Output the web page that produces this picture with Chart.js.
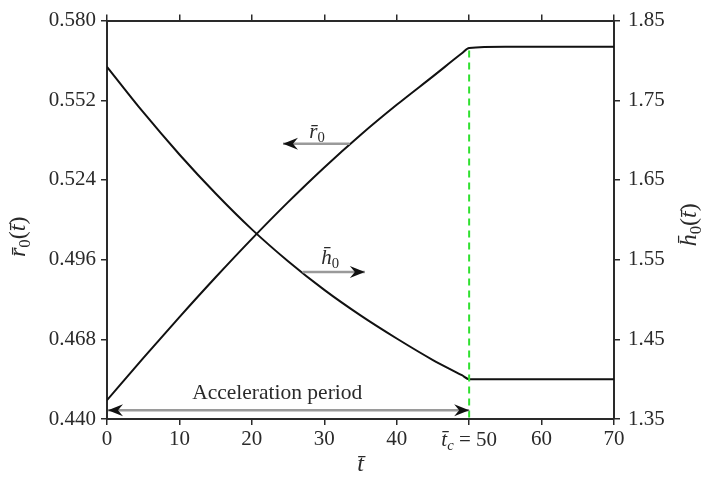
<!DOCTYPE html>
<html>
<head>
<meta charset="utf-8">
<script src="https://cdn.jsdelivr.net/npm/chart.js@4.4.1/dist/chart.umd.min.js"></script>
<style>
html, body { margin: 0; padding: 0; background: #fff; }
#wrap { width: 707px; height: 485px; }
</style>
</head>
<body>
<div id="wrap"><canvas id="c" width="707" height="485"></canvas></div>
<script>
"use strict";

// data
const tVals  = [0, 5, 10, 15, 20, 25, 30, 35, 40, 45, 49, 50, 55, 60, 65, 70];
const r0Vals = [0.4466, 0.4614, 0.4758, 0.4898, 0.5033, 0.5162, 0.5284, 0.5398, 0.5504, 0.5604, 0.5685, 0.5704, 0.5708, 0.5708, 0.5708, 0.5708];
const h0Vals = [1.792, 1.735, 1.682, 1.633, 1.588, 1.548, 1.512, 1.480, 1.451, 1.424, 1.405, 1.400, 1.400, 1.400, 1.400, 1.400];

const xTicks = [0, 10, 20, 30, 40, 50, 60, 70];
const leftTicks = [0.440, 0.468, 0.496, 0.524, 0.552, 0.580];
const rightTicks = [1.35, 1.45, 1.55, 1.65, 1.75, 1.85];
const tc = 50;

// annotation arrows, in data units
const r0Arrow = { from: [33.5, 0.5367], to: [24.3, 0.5367], label: [29.0, 0.5408] };
const h0Arrow = { from: [27.0, 1.5344], to: [35.6, 1.5344], label: [30.8, 1.5517] };
const accArrow = { from: [0, 0.4431], to: [50, 0.4431], label: [23.5, 0.4490] };

const ink = "#2a2a2a";
const serif = "'Liberation Serif', 'DejaVu Serif', serif";
const MAC = "\u0304";

function pts(ys) {
  return tVals.map((t, i) => ({ x: t, y: ys[i] }));
}

// text made of parts: {s, it, sub}
function richWidth(ctx, parts, size) {
  let w = 0;
  parts.forEach(p => {
    let fs = p.sub ? size * 0.7 : size;
    ctx.font = (p.it ? "italic " : "") + fs + "px " + serif;
    w += ctx.measureText(p.s).width;
  });
  return w;
}
function drawRich(ctx, parts, x, y, size) {
  let w = richWidth(ctx, parts, size);
  let cx = x - w / 2;
  ctx.textBaseline = "middle";
  ctx.textAlign = "left";
  ctx.fillStyle = ink;
  parts.forEach(p => {
    let fs = p.sub ? size * 0.7 : size;
    ctx.font = (p.it ? "italic " : "") + fs + "px " + serif;
    ctx.fillText(p.s, cx, p.sub ? y + size * 0.28 : y);
    cx += ctx.measureText(p.s).width;
  });
}

function head(ctx, x, y, dir) {
  ctx.save();
  ctx.translate(x, y);
  ctx.scale(dir, 1);
  ctx.beginPath();
  ctx.moveTo(0, 0);
  ctx.lineTo(-15, -6);
  ctx.lineTo(-10, 0);
  ctx.lineTo(-15, 6);
  ctx.closePath();
  ctx.fillStyle = "#111";
  ctx.fill();
  ctx.restore();
}

function arrow(ctx, x1, y1, x2, y2, both) {
  ctx.save();
  ctx.strokeStyle = "#9a9a9a";
  ctx.lineWidth = 2.5;
  ctx.beginPath();
  ctx.moveTo(x1, y1);
  ctx.lineTo(x2, y2);
  ctx.stroke();
  ctx.restore();
  head(ctx, x2, y2, x2 > x1 ? 1 : -1);
  if (both) head(ctx, x1, y1, x1 > x2 ? 1 : -1);
}

const decor = {
  id: "decor",
  afterDatasetsDraw(chart) {
    const ctx = chart.ctx;
    const x = chart.scales.x, yl = chart.scales.y, yr = chart.scales.y2;
    const area = chart.chartArea;

    arrow(ctx, x.getPixelForValue(r0Arrow.from[0]), yl.getPixelForValue(r0Arrow.from[1]),
      x.getPixelForValue(r0Arrow.to[0]), yl.getPixelForValue(r0Arrow.to[1]), false);
    arrow(ctx, x.getPixelForValue(h0Arrow.from[0]), yr.getPixelForValue(h0Arrow.from[1]),
      x.getPixelForValue(h0Arrow.to[0]), yr.getPixelForValue(h0Arrow.to[1]), false);
    arrow(ctx, x.getPixelForValue(accArrow.from[0]) + 1, yl.getPixelForValue(accArrow.from[1]),
      x.getPixelForValue(accArrow.to[0]), yl.getPixelForValue(accArrow.to[1]), true);

    drawRich(ctx, [{ s: "r" + MAC, it: true }, { s: "0", sub: true }],
      x.getPixelForValue(r0Arrow.label[0]), yl.getPixelForValue(r0Arrow.label[1]), 21);
    drawRich(ctx, [{ s: "h" + MAC, it: true }, { s: "0", sub: true }],
      x.getPixelForValue(h0Arrow.label[0]), yr.getPixelForValue(h0Arrow.label[1]), 21);
    drawRich(ctx, [{ s: "Acceleration period" }],
      x.getPixelForValue(accArrow.label[0]), yl.getPixelForValue(accArrow.label[1]), 21.5);

    // tick label at t_c
    drawRich(ctx, [{ s: "t" + MAC, it: true }, { s: "c", it: true, sub: true }, { s: " = " + tc }],
      x.getPixelForValue(tc), area.bottom + 21, 21);

    // axis titles
    drawRich(ctx, [{ s: "t" + MAC, it: true }], (area.left + area.right) / 2, 465, 24);

    ctx.save();
    ctx.translate(19, (area.top + area.bottom) / 2 + 17);
    ctx.rotate(-Math.PI / 2);
    drawRich(ctx, [{ s: "r" + MAC, it: true }, { s: "0", sub: true }, { s: "(" }, { s: "t" + MAC, it: true }, { s: ")" }], 0, 0, 24);
    ctx.restore();

    ctx.save();
    ctx.translate(690, (area.top + area.bottom) / 2 + 5);
    ctx.rotate(-Math.PI / 2);
    drawRich(ctx, [{ s: "h" + MAC, it: true }, { s: "0", sub: true }, { s: "(" }, { s: "t" + MAC, it: true }, { s: ")" }], 0, 0, 24);
    ctx.restore();
  }
};

function axisGrid() {
  return { drawOnChartArea: false, drawTicks: true, tickLength: 6, color: ink, lineWidth: 1.5 };
}
function axisBorder() {
  return { display: true, color: ink, width: 2 };
}
const tickFont = { family: serif, size: 21 };

new Chart(document.getElementById("c"), {
  type: "line",
  data: {
    datasets: [
      {
        data: [{ x: tc, y: 0.5695 }, { x: tc, y: 0.440 }],
        yAxisID: "y",
        borderColor: "#2fe02f",
        borderWidth: 2,
        borderDash: [7, 5],
        pointRadius: 0
      },
      {
        label: "r0",
        data: pts(r0Vals),
        yAxisID: "y",
        borderColor: "#111",
        borderWidth: 2,
        pointRadius: 0,
        cubicInterpolationMode: "monotone"
      },
      {
        label: "h0",
        data: pts(h0Vals),
        yAxisID: "y2",
        borderColor: "#111",
        borderWidth: 2,
        pointRadius: 0,
        cubicInterpolationMode: "monotone"
      }
    ]
  },
  options: {
    responsive: false,
    animation: false,
    layout: { padding: 0 },
    plugins: { legend: { display: false }, tooltip: { enabled: false } },
    scales: {
      x: {
        type: "linear", position: "bottom", min: 0, max: 70,
        afterBuildTicks: s => { s.ticks = xTicks.map(v => ({ value: v })); },
        afterFit: s => { s.height = 66; },
        ticks: {
          color: ink, font: tickFont, padding: 2, maxRotation: 0,
          callback: v => (v === tc ? "" : String(v))
        },
        grid: axisGrid(), border: axisBorder()
      },
      x2: {
        type: "linear", position: "top", min: 0, max: 70,
        afterBuildTicks: s => { s.ticks = xTicks.map(v => ({ value: v })); },
        afterFit: s => { s.height = 15; },
        ticks: { display: false },
        grid: axisGrid(), border: axisBorder()
      },
      y: {
        type: "linear", position: "left", min: 0.440, max: 0.580,
        afterBuildTicks: s => { s.ticks = leftTicks.map(v => ({ value: v })); },
        afterFit: s => { s.width = 107; },
        ticks: { color: ink, font: tickFont, padding: 5, callback: v => v.toFixed(3) },
        grid: axisGrid(), border: axisBorder()
      },
      y2: {
        type: "linear", position: "right", min: 1.35, max: 1.85,
        afterBuildTicks: s => { s.ticks = rightTicks.map(v => ({ value: v })); },
        afterFit: s => { s.width = 93; },
        ticks: { color: ink, font: tickFont, padding: 8, callback: v => v.toFixed(2) },
        grid: axisGrid(), border: axisBorder()
      }
    }
  },
  plugins: [decor]
});
</script>
</body>
</html>
